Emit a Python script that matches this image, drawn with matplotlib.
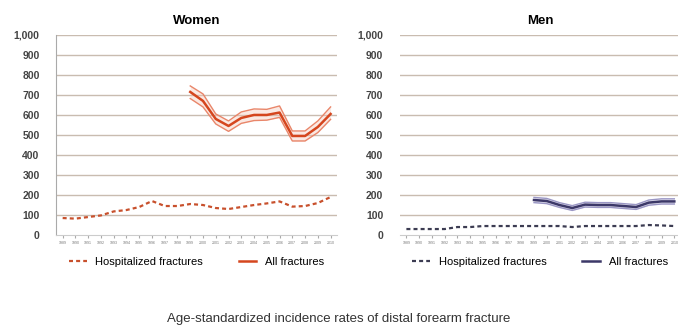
import numpy as np
from matplotlib import pyplot as plt

plt.rcParams['font.family'] = ['Liberation Sans', 'DejaVu Sans']

years = list(range(1989, 2011))
all_years = list(range(1999, 2011))

# Women
women_hosp = [85, 82, 90, 98, 118, 125, 140, 170, 145, 145, 155, 150,
              135, 130, 140, 150, 158, 168, 142, 145, 160, 190]
women_all = [715, 670, 580, 545, 585, 600, 600, 612, 495, 495, 540, 605]
women_upper = [745, 705, 605, 570, 615, 630, 628, 645, 520, 520, 570, 640]
women_lower = [682, 640, 555, 518, 558, 572, 574, 588, 470, 470, 512, 578]

# Men
men_hosp = [30, 30, 30, 30, 40, 40, 45, 45, 45, 45, 45, 45,
            45, 40, 45, 45, 45, 45, 45, 50, 48, 45]
men_all = [175, 170, 150, 135, 152, 150, 150, 145, 140, 162, 168, 168]
men_upper = [188, 183, 162, 147, 164, 162, 162, 157, 152, 175, 181, 181]
men_lower = [162, 157, 138, 123, 140, 138, 138, 133, 128, 149, 155, 155]

yticks = list(range(0, 1001, 100))
ytick_labels = ['0', '100', '200', '300', '400', '500', '600', '700', '800', '900', '1,000']


def draw_panel(ax, title, hosp, allv, up, lo, line_c, band_c, hosp_c, band_fill, spine):
    x = np.arange(len(years))
    xa = x[years.index(all_years[0]):]
    ax.set_ylim(0, 1000)
    ax.set_xlim(-0.5, len(years) - 0.5)
    ax.set_yticks(yticks)
    ax.set_yticklabels(ytick_labels, fontsize=7.5, fontweight='bold', color='#444444')
    ax.set_xticks(x)
    ax.set_xticklabels([str(y) for y in years], fontsize=2.6, color='#777777')
    ax.tick_params(axis='y', length=0, pad=12)
    ax.tick_params(axis='x', length=2, color='#aaaaaa', pad=2)
    for v in yticks[1:]:
        ax.axhline(v, color='#c9bcb0', lw=1.0, zorder=0)
    for s in ['top', 'right']:
        ax.spines[s].set_visible(False)
    ax.spines['left'].set_visible(spine)
    ax.spines['left'].set_color('#aaaaaa')
    ax.spines['bottom'].set_color('#cccccc')
    ax.set_title(title, fontsize=9.5, fontweight='bold', pad=8)
    ax.plot(x, hosp, ls=(0, (1.8, 1.4)), lw=1.6, color=hosp_c,
            label='Hospitalized fractures')
    ax.fill_between(xa, lo, up, color=band_fill, alpha=0.35, lw=0)
    ax.plot(xa, up, color=band_c, lw=1.0)
    ax.plot(xa, lo, color=band_c, lw=1.0)
    ax.plot(xa, allv, color=line_c, lw=1.8, label='All fractures')
    ax.legend(loc='upper center', bbox_to_anchor=(0.5, -0.06), ncol=2,
              frameon=False, fontsize=8, handlelength=1.6, columnspacing=3.2)


fig = plt.figure(figsize=(6.78, 3.26), dpi=100)
ax1 = fig.add_axes([0.083, 0.279, 0.414, 0.614])
ax2 = fig.add_axes([0.590, 0.279, 0.414, 0.614])

draw_panel(ax1, 'Women', women_hosp, women_all, women_upper, women_lower,
           '#d5461e', '#e9866a', '#c8502c', '#f6c2b0', True)
draw_panel(ax2, 'Men', men_hosp, men_all, men_upper, men_lower,
           '#3c3868', '#9a96c4', '#3c3c52', '#b7b3d6', False)

fig.text(0.5, 0.012, 'Age-standardized incidence rates of distal forearm fracture',
         ha='center', fontsize=9.5, color='#333333')

fig.savefig('out.png', dpi=100)
